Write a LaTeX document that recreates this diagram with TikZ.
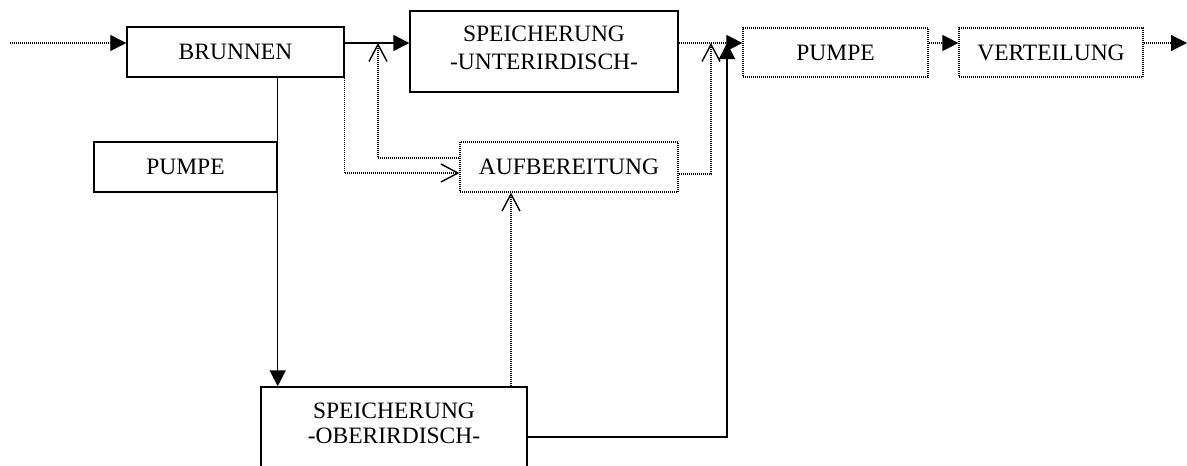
\documentclass[tikz,border=0pt]{standalone}
\usepackage{fontspec}
\setmainfont{Liberation Serif}
\usetikzlibrary{arrows.meta}
\begin{document}
\begin{tikzpicture}[x=1pt,y=-1pt,
  txt/.style={font=\fontsize{23.5}{28}\selectfont, align=center, inner sep=0pt},
  solidbox/.style={draw, line width=1.4pt, inner sep=0pt, font=\fontsize{23.5}{28}\selectfont},
  dotbox/.style={draw, line width=1.2pt, dash pattern=on 1pt off 1pt, inner sep=0pt, font=\fontsize{23.5}{28}\selectfont},
  solidline/.style={line width=1.5pt},
  dotline/.style={line width=1.2pt, dash pattern=on 1pt off 1pt},
  fill tip/.style={-{Triangle[length=16pt,width=16pt]}},
  open tip/.style={-{Straight Barb[length=17pt,width=18pt,line width=1.4pt]}},
]
\useasboundingbox (0,0) rectangle (1187,466);
\clip (0,0) rectangle (1187,466);

% nodes
\node[solidbox, minimum width=217pt, minimum height=50pt] (brunnen) at (235.5,52) {BRUNNEN};
\node[solidbox, minimum width=268pt, minimum height=81pt] (su) at (544,51.5) {};
\node[txt] (su-t) at (544,47.5) {SPEICHERUNG\\-UNTERIRDISCH-};
\node[dotbox, minimum width=218pt, minimum height=50pt] (au) at (569,167) {AUFBEREITUNG};
\node[dotbox, minimum width=185pt, minimum height=49pt] (pumpe2) at (835.5,52.5) {PUMPE};
\node[dotbox, minimum width=184pt, minimum height=49pt] (vert) at (1051,52.5) {VERTEILUNG};
\node[solidbox, minimum width=183pt, minimum height=50pt] (pumpe1) at (185.5,167) {PUMPE};
\node[solidbox, minimum width=266pt, minimum height=81pt] (so) at (394,427.5) {};
\node[txt, font=\fontsize{23.5}{25}\selectfont] (so-t) at (394,423.5) {SPEICHERUNG\\-OBERIRDISCH-};

% coordinates
\coordinate (in) at (10,43);
\coordinate (out) at (1187,43);
\coordinate (j1) at (378,43);
\coordinate (j2) at (711,43);
\coordinate (j3) at (727,43);
\coordinate (j4) at ([xshift=-58pt]au.south);

% connectors
\draw[dotline, fill tip] (in) -- ([yshift=9pt]brunnen.west);
\draw[solidline, fill tip] ([yshift=9pt]brunnen.east) -- (su.west |- in);
\draw[solidline, fill tip] (brunnen.south -| pumpe1.east) -- (so.north -| pumpe1.east);
\draw[dotline, open tip] (brunnen.south east) |- ([yshift=-6pt]au.west);
\draw[dotline, open tip] ([yshift=9pt]au.west) -| (j1);
\draw[dotline, open tip] ([yshift=-7pt]au.east) -| (j2);
\draw[dotline, fill tip] (su.east |- in) -- (pumpe2.west |- in);
\draw[solidline, fill tip] ([yshift=-9.5pt]so.east) -| (j3);
\draw[dotline, open tip] (so.north -| j4) -- (j4);
\draw[dotline, fill tip] (pumpe2.east |- in) -- (vert.west |- in);
\draw[dotline, fill tip] (vert.east |- in) -- (out);
\end{tikzpicture}
\end{document}
